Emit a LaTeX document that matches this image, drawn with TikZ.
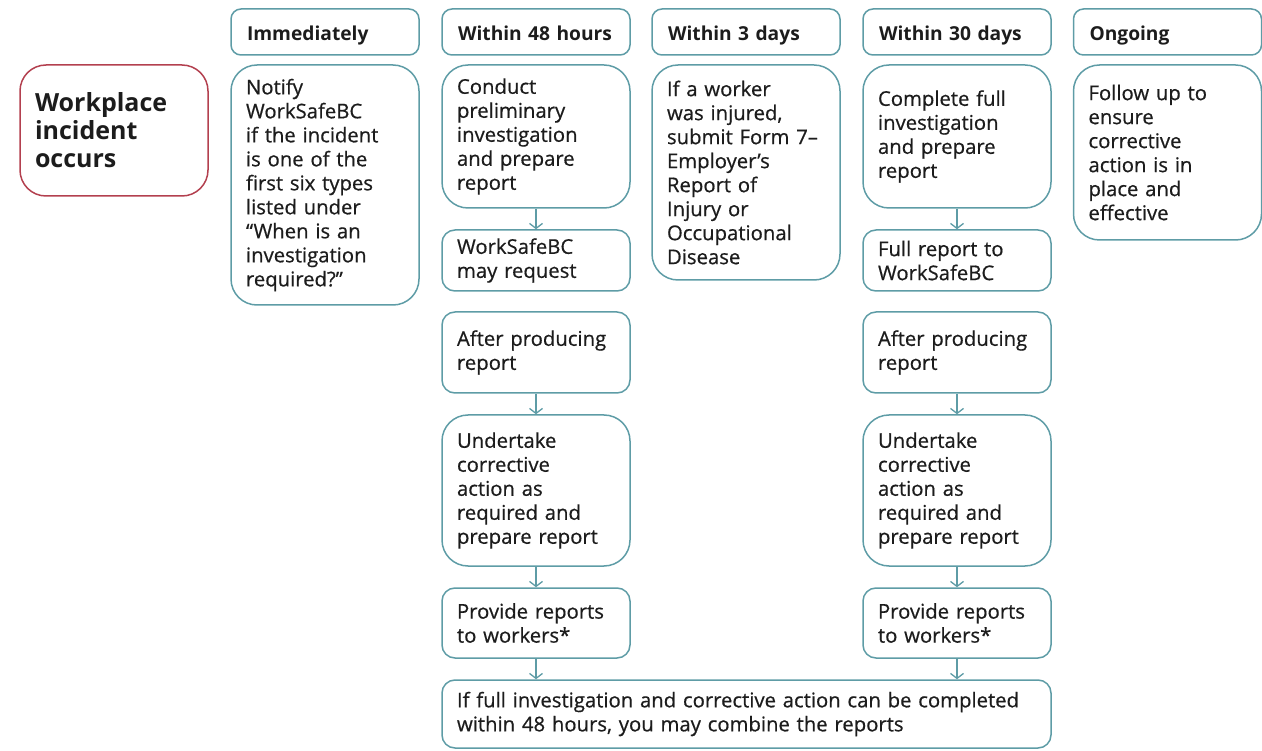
\documentclass[tikz,border=0pt]{standalone}
\usepackage{fontspec}
\setmainfont{Open Sans}
\usetikzlibrary{arrows.meta}
\definecolor{teal}{HTML}{5E9CA6}
\definecolor{incred}{HTML}{B3404F}
\definecolor{txt}{HTML}{1C1C1C}
\tikzset{
  base/.style={draw=teal, line width=1.5pt, text=txt, align=left, inner ysep=0pt,
    inner xsep=15pt, text width=158pt, minimum width=188pt,
    font=\fontsize{20.3}{24}\selectfont\addfontfeatures{FakeBold=0.6}},
  tall/.style={base, rounded corners=26pt},
  short/.style={base, rounded corners=13pt},
  head/.style={base, rounded corners=10pt, minimum height=46pt, inner xsep=16pt, text width=156pt,
    text height=21pt, text depth=4pt, font=\fontsize{19.2}{24}\selectfont\bfseries},
  inc/.style={tall, draw=incred, font=\fontsize{25}{28}\selectfont\bfseries},
  flow/.style={draw=teal, line width=1.3pt, -{Straight Barb[length=5pt,width=13pt,line width=1.3pt]}}
}
\begin{document}
\begin{tikzpicture}[x=1pt,y=-1pt]
\useasboundingbox (0,0) rectangle (1262,751);
% headers
\node[head] (h1) at (325,32) {Immediately};
\node[head] (h2) at (536,32) {Within 48 hours};
\node[head] (h3) at (746,32) {Within 3 days};
\node[head] (h4) at (957,32) {Within 30 days};
\node[head, minimum width=187pt] (h5) at (1167.5,32) {Ongoing};
% incident
\node[inc, minimum height=131pt] (inc) at (114,130.5) {Workplace\\incident\\occurs};
% immediately
\node[tall, minimum height=240pt] (notify) at (325,185) {Notify\\WorkSafeBC\\if the incident\\is one of the\\first six types\\listed under\\``When is an\\investigation\\required?''};
% 48 hours
\node[tall, minimum height=143pt] (conduct) at (536,136.5) {Conduct\\preliminary\\investigation\\and prepare\\report};
\node[short, minimum height=61pt] (req) at (536,260.5) {WorkSafeBC\\may request};
\node[short, minimum height=81pt] (after1) at (536,352.5) {After producing\\report};
\node[tall, minimum height=151pt] (under1) at (536,490.5) {Undertake\\corrective\\action as\\required and\\prepare report};
\node[short, minimum height=70pt] (prov1) at (536,623) {Provide reports\\to workers*};
% 3 days
\node[tall, minimum height=215pt] (form7) at (746,172.5) {If a worker\\was injured,\\submit Form 7–\\Employer’s\\Report of\\Injury or\\Occupational\\Disease};
% 30 days
\node[tall, minimum height=143pt] (complete) at (957,136.5) {Complete full\\investigation\\and prepare\\report};
\node[short, minimum height=61pt] (full) at (957,260.5) {Full report to\\WorkSafeBC};
\node[short, minimum height=81pt] (after2) at (957,352.5) {After producing\\report};
\node[tall, minimum height=151pt] (under2) at (957,490.5) {Undertake\\corrective\\action as\\required and\\prepare report};
\node[short, minimum height=70pt] (prov2) at (957,623) {Provide reports\\to workers*};
% ongoing
\node[tall, minimum width=187pt, minimum height=175pt] (ongoing) at (1167.5,152.5) {Follow up to\\ensure\\corrective\\action is in\\place and\\effective};
% bottom
\node[short, minimum width=609pt, text width=579pt, minimum height=68pt] (combine) at (746.5,714) {If full investigation and corrective action can be completed\\within 48 hours, you may combine the reports};
% arrows
\draw[flow] (conduct) -- (req);
\draw[flow] (after1) -- (under1);
\draw[flow] (under1) -- (prov1);
\draw[flow] (prov1.south) -- (prov1.south |- combine.north);
\draw[flow] (complete) -- (full);
\draw[flow] (after2) -- (under2);
\draw[flow] (under2) -- (prov2);
\draw[flow] (prov2.south) -- (prov2.south |- combine.north);
\end{tikzpicture}
\end{document}
